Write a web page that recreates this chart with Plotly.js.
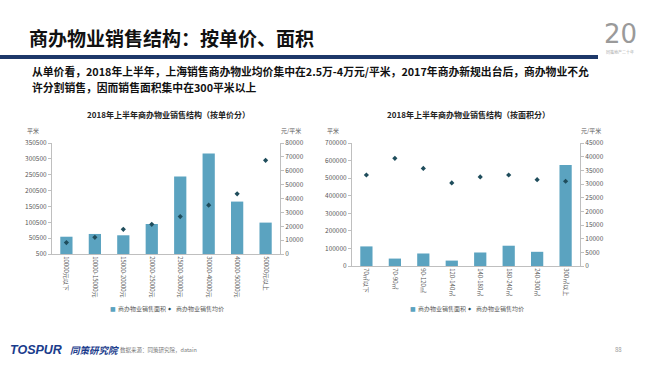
<!DOCTYPE html>
<html>
<head>
<meta charset="utf-8">
<script src="https://cdn.plot.ly/plotly-3.0.1.min.js"></script>
<style>
html,body{margin:0;padding:0;background:#fff;}
#chart{width:650px;height:365px;}
</style>
</head>
<body>
<div id="chart"></div>
<script>
// ---- data ----
const priceCats = ["10000元以下","10000-15000元","15000-20000元","20000-25000元","25000-30000元","30000-40000元","40000-50000元","50000元以上"];
const priceArea = [55000, 63700, 59500, 95200, 244700, 317300, 165800, 99500];
const priceAvg = [8200, 12000, 17800, 21400, 27000, 35200, 43400, 67500];

const areaCats = ["70㎡以下","70-90㎡","90-120㎡","120-140㎡","140-180㎡","180-240㎡","240-300㎡","300㎡以上"];
const areaArea = [111500, 42300, 71200, 30800, 76900, 115400, 80800, 575000];
const areaAvg = [33300, 39400, 35700, 30400, 32600, 33300, 31600, 31000];

const seriesNames = ["商办物业销售面积", "商办物业销售均价"];
const leftTicks = [500, 50500, 100500, 150500, 200500, 250500, 300500, 350500];

// ---- helpers ----
const W = 650, H = 365;
const px = x => x / W;
const py = y => 1 - y / H;
const CJK = 'Noto Sans CJK SC';
const barColor = '#5ba3c0';
const dotColor = '#1f4d5c';
const tickFont = {family: CJK, size: 6.5, color: '#595959'};

const traces = [
  {type:'bar', x: priceCats, y: priceArea, name: seriesNames[0], xaxis:'x', yaxis:'y',
   marker:{color: barColor}},
  {type:'scatter', mode:'markers', x: priceCats, y: priceAvg, name: seriesNames[1], xaxis:'x', yaxis:'y2',
   marker:{color: dotColor, size:4, symbol:'diamond'}},
  {type:'bar', x: areaCats, y: areaArea, name: seriesNames[0], xaxis:'x2', yaxis:'y3',
   marker:{color: barColor}},
  {type:'scatter', mode:'markers', x: areaCats, y: areaAvg, name: seriesNames[1], xaxis:'x2', yaxis:'y4',
   marker:{color: dotColor, size:4, symbol:'diamond'}}
];

const yBase = {showgrid:false, zeroline:false, showline:true, linecolor:'#bfbfbf', linewidth:1,
  ticks:'outside', ticklen:3, tickcolor:'#bfbfbf', tickfont: tickFont, tickformat:'d', fixedrange:true};
const xBase = {showgrid:false, zeroline:false, showline:true, linecolor:'#bfbfbf', linewidth:1,
  ticks:'', tickangle:90, tickfont: {family: CJK, size: 6, color: '#595959'}, fixedrange:true};

function legendAnn(xText, xDot, name, sym, color, size) {
  return [
    {text: sym, xref:'paper', yref:'paper', x:px(xDot), y:py(308), xanchor:'center', yanchor:'middle',
     showarrow:false, font:{family:'DejaVu Sans', size:size, color:color}},
    {text: name, xref:'paper', yref:'paper', x:px(xText), y:py(308), xanchor:'left', yanchor:'middle',
     showarrow:false, font:{family:CJK, size:6, color:'#595959'}}
  ];
}

const layout = {
  width: W, height: H,
  margin:{l:0, r:0, t:0, b:0},
  paper_bgcolor:'#ffffff', plot_bgcolor:'rgba(0,0,0,0)',
  bargap: 0.57,
  showlegend: false,
  xaxis: Object.assign({}, xBase, {domain:[px(52), px(280)], anchor:'y'}),
  yaxis: Object.assign({}, yBase, {domain:[py(254), py(143)], range:[500, 350500], tickvals: leftTicks, anchor:'x'}),
  yaxis2: Object.assign({}, yBase, {overlaying:'y', side:'right', anchor:'x', range:[0, 80000], dtick:10000}),
  xaxis2: Object.assign({}, xBase, {domain:[px(352), px(580)], anchor:'y3'}),
  yaxis3: Object.assign({}, yBase, {domain:[py(266), py(143)], range:[0, 700000], dtick:100000, anchor:'x2'}),
  yaxis4: Object.assign({}, yBase, {overlaying:'y3', side:'right', anchor:'x2', range:[0, 45000], dtick:5000}),
  shapes: [
    {type:'rect', xref:'paper', yref:'paper', x0:0, x1:px(598), y0:py(59), y1:py(55),
     fillcolor:'#1d3869', line:{width:0}}
  ],
  annotations: [
    {text:'<b>商办物业销售结构：按单价、面积</b>', xref:'paper', yref:'paper', x:px(27), y:py(37),
     xanchor:'left', yanchor:'middle', showarrow:false, font:{family:CJK, size:19, color:'#111111'}},
    {text:'<b>从单价看，2018年上半年，上海销售商办物业均价集中在2.5万-4万元/平米，2017年商办新规出台后，商办物业不允</b>',
     xref:'paper', yref:'paper', x:px(30), y:py(71), xanchor:'left', yanchor:'middle', showarrow:false,
     font:{family:CJK, size:10.8, color:'#111111'}},
    {text:'<b>许分割销售，因而销售面积集中在300平米以上</b>',
     xref:'paper', yref:'paper', x:px(30), y:py(87), xanchor:'left', yanchor:'middle', showarrow:false,
     font:{family:CJK, size:10.8, color:'#111111'}},
    {text:'<b>2018年上半年商办物业销售结构（按单价分）</b>', xref:'paper', yref:'paper', x:px(168), y:py(114),
     xanchor:'center', yanchor:'middle', showarrow:false, font:{family:CJK, size:8, color:'#222222'}},
    {text:'<b>2018年上半年商办物业销售结构（按面积分）</b>', xref:'paper', yref:'paper', x:px(468), y:py(114),
     xanchor:'center', yanchor:'middle', showarrow:false, font:{family:CJK, size:8, color:'#222222'}},
    {text:'平米', xref:'paper', yref:'paper', x:px(33), y:py(130), xanchor:'center', yanchor:'middle',
     showarrow:false, font:{family:CJK, size:6, color:'#595959'}},
    {text:'元/平米', xref:'paper', yref:'paper', x:px(291), y:py(130), xanchor:'center', yanchor:'middle',
     showarrow:false, font:{family:CJK, size:6, color:'#595959'}},
    {text:'平米', xref:'paper', yref:'paper', x:px(333), y:py(130), xanchor:'center', yanchor:'middle',
     showarrow:false, font:{family:CJK, size:6, color:'#595959'}},
    {text:'元/平米', xref:'paper', yref:'paper', x:px(591), y:py(130), xanchor:'center', yanchor:'middle',
     showarrow:false, font:{family:CJK, size:6, color:'#595959'}},
    ...legendAnn(116, 113, seriesNames[0], '■', barColor, 6),
    ...legendAnn(174, 170, seriesNames[1], '◆', dotColor, 4),
    ...legendAnn(416, 413, seriesNames[0], '■', barColor, 6),
    ...legendAnn(474, 470, seriesNames[1], '◆', dotColor, 4),
    {text:'20', xref:'paper', yref:'paper', x:px(620), y:py(34), xanchor:'center', yanchor:'middle',
     showarrow:false, font:{family:'DejaVu Sans', size:26, color:'#9a9a9a'}},
    {text:'同策地产二十年', xref:'paper', yref:'paper', x:px(620), y:py(52), xanchor:'center', yanchor:'middle',
     showarrow:false, font:{family:CJK, size:4, color:'#aaaaaa'}},
    {text:'<b><i>TOSPUR</i></b>', xref:'paper', yref:'paper', x:px(8), y:py(350), xanchor:'left', yanchor:'middle',
     showarrow:false, font:{family:'Liberation Sans', size:12.5, color:'#1a3c8c'}},
    {text:'<b><i>同策研究院</i></b>', xref:'paper', yref:'paper', x:px(68), y:py(350), xanchor:'left', yanchor:'middle',
     showarrow:false, font:{family:CJK, size:9.5, color:'#1a3c8c'}},
    {text:'数据来源：同策研究院，datain', xref:'paper', yref:'paper', x:px(118), y:py(350), xanchor:'left', yanchor:'middle',
     showarrow:false, font:{family:CJK, size:5.5, color:'#777777'}},
    {text:'88', xref:'paper', yref:'paper', x:px(618), y:py(349), xanchor:'center', yanchor:'middle',
     showarrow:false, font:{family:CJK, size:6, color:'#999999'}}
  ]
};

Plotly.newPlot('chart', traces, layout, {displayModeBar:false, staticPlot:true});
</script>
</body>
</html>
